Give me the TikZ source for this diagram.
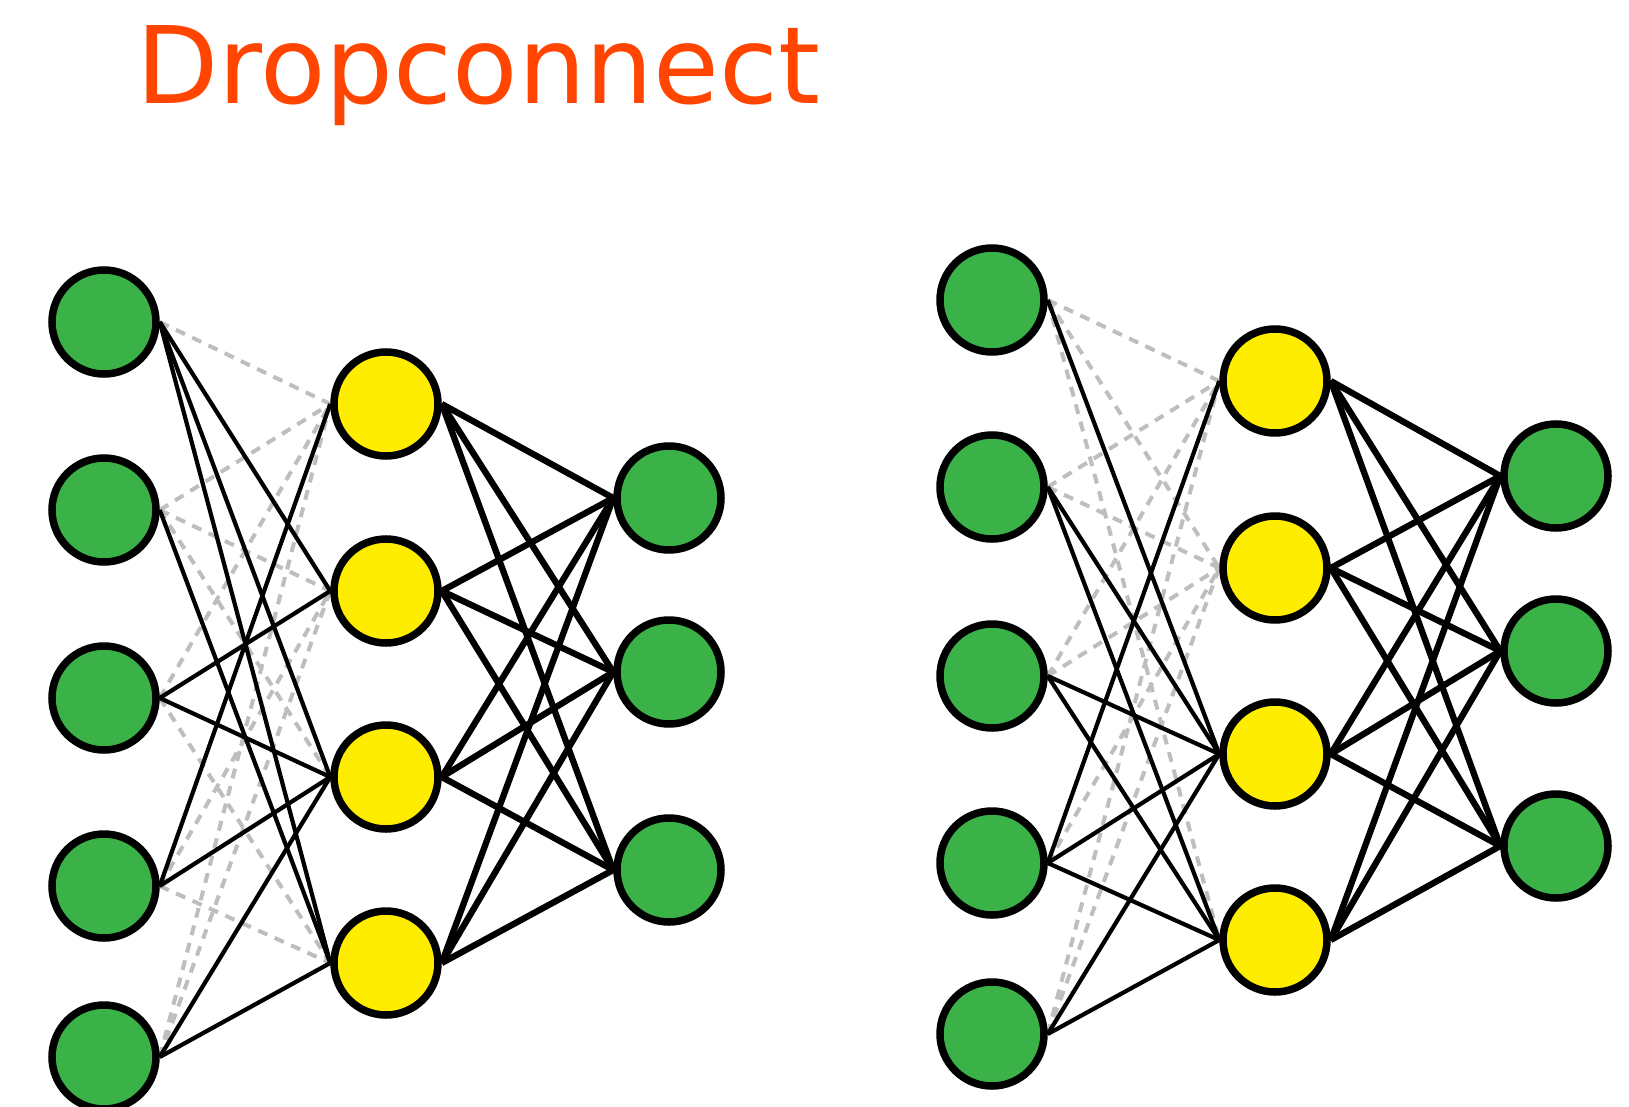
\documentclass[tikz,border=0pt]{standalone}
\usepackage{fontspec}
\setmainfont{DejaVu Sans}
\usetikzlibrary{backgrounds}
\definecolor{ngreen}{RGB}{58,178,72}
\definecolor{nyellow}{RGB}{255,237,0}
\definecolor{titlecol}{RGB}{255,69,0}
\definecolor{dropgray}{RGB}{190,190,190}
\begin{document}
\begin{tikzpicture}[x=1pt,y=-1pt,
  neuron/.style={circle,draw=black,line width=7.5pt,minimum size=104pt,inner sep=0pt},
  inneuron/.style={neuron,fill=ngreen},
  hidneuron/.style={neuron,fill=nyellow},
  conn/.style={black,line width=4.2pt},
  outconn/.style={black,line width=6.3pt},
  dropped/.style={dropgray,line width=4pt,dash pattern=on 10pt off 8pt}]
\useasboundingbox (0,0) rectangle (1629,1107);
\clip (0,0) rectangle (1629,1107);

\node[anchor=base west,inner sep=0pt,text=titlecol,font=\fontsize{107}{120}\selectfont] (title) at (136,104) {Dropconnect};

% left network
\foreach \i/\y in {1/322,2/510,3/698,4/886,5/1057}
  \node[inneuron] (LI\i) at (104,\y) {};
\foreach \i/\y in {1/404,2/591,3/777,4/963}
  \node[hidneuron] (LH\i) at (386,\y) {};
\foreach \i/\y in {1/498,2/672,3/870}
  \node[inneuron] (LO\i) at (669,\y) {};

% right network
\foreach \i/\y in {1/300,2/487,3/676,4/863,5/1034}
  \node[inneuron] (RI\i) at (992,\y) {};
\foreach \i/\y in {1/381,2/568,3/754,4/940}
  \node[hidneuron] (RH\i) at (1275,\y) {};
\foreach \i/\y in {1/476,2/651,3/846}
  \node[inneuron] (RO\i) at (1556,\y) {};

\begin{scope}[on background layer]
  % dropped connections
  \foreach \a/\b in {1/1,2/1,2/2,2/3,3/1,3/4,4/2,4/4,5/1,5/2}
    \draw[dropped] (LI\a.east) -- (LH\b.west);
  \foreach \a/\b in {1/1,1/2,1/4,2/1,2/2,3/1,3/2,4/2,5/1,5/2}
    \draw[dropped] (RI\a.east) -- (RH\b.west);
  % kept connections
  \foreach \a/\b in {1/2,1/3,1/4,2/4,3/2,3/3,4/1,4/3,5/3,5/4}
    \draw[conn] (LI\a.east) -- (LH\b.west);
  \foreach \a/\b in {1/3,2/3,2/4,3/3,3/4,4/1,4/3,4/4,5/3,5/4}
    \draw[conn] (RI\a.east) -- (RH\b.west);
  % hidden to output
  \foreach \h in {1,2,3,4}
    \foreach \o in {1,2,3} {
      \draw[outconn] (LH\h.east) -- (LO\o.west);
      \draw[outconn] (RH\h.east) -- (RO\o.west);
    }
\end{scope}
\end{tikzpicture}
\end{document}
